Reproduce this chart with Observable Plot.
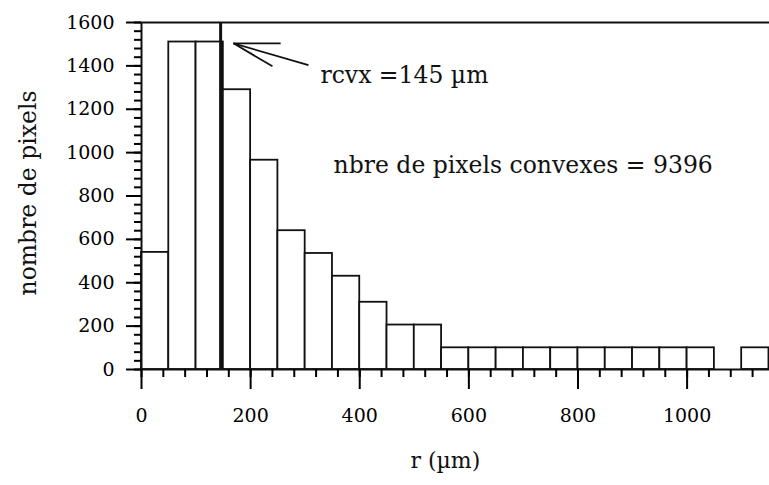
<!DOCTYPE html>
<html>
<head>
<meta charset="utf-8">
<script src="https://cdn.jsdelivr.net/npm/d3@7"></script>
<script src="https://cdn.jsdelivr.net/npm/@observablehq/plot@0.6"></script>
<style>
  html, body { margin: 0; padding: 0; background: #fff; }
  #chart svg { display: block; }
</style>
</head>
<body>
<div id="chart"></div>
<script>
// Histogram bins (µm) and pixel counts
const binStart = [0, 50, 100, 150, 200, 250, 300, 350, 400, 450, 500, 550, 600, 650, 700, 750, 800, 850, 900, 950, 1000, 1050, 1100];
const binWidth = 50;
const counts   = [540, 1510, 1510, 1290, 965, 640, 535, 430, 310, 205, 205, 100, 100, 100, 100, 100, 100, 100, 100, 100, 100, 0, 100];

// Axis ticks
const xMajorTicks = [0, 200, 400, 600, 800, 1000];
const xMinorTicks = d3.range(0, 1151, 40);
const yMajorTicks = [0, 200, 400, 600, 800, 1000, 1200, 1400, 1600];
const yMinorTicks = d3.range(0, 1601, 40);

// Annotations
const rcvx = 145;
const rcvxLabel = "rcvx =145 µm";
const convexLabel = "nbre de pixels convexes = 9396";
const arrowX1 = [168.5, 168.5, 168.5];
const arrowY1 = [1504, 1504, 1504];
const arrowX2 = [306, 255, 240];
const arrowY2 = [1403, 1504, 1398];
const xLabel = "r (µm)";
const yLabel = "nombre de pixels";

const bars = binStart.map((s, i) => ({x1: s, x2: s + binWidth, y: counts[i]})).filter(d => d.y > 0);
const arrowSegs = arrowX1.map((_, i) => ({x1: arrowX1[i], y1: arrowY1[i], x2: arrowX2[i], y2: arrowY2[i]}));

const serif = "'DejaVu Serif', 'Liberation Serif', serif";

const chart = Plot.plot({
  width: 769,
  height: 485,
  marginLeft: 141,
  marginRight: 0,
  marginTop: 22,
  marginBottom: 116,
  style: {background: "#fff", color: "#000", fontFamily: serif, fontSize: "19px"},
  x: {domain: [0, 1151], label: null},
  y: {domain: [0, 1600], label: null},
  marks: [
    Plot.rectY(bars, {x1: "x1", x2: "x2", y: "y", fill: "#fff", stroke: "#111", strokeWidth: 1.8}),
    Plot.ruleY([1600], {stroke: "#111", strokeWidth: 2}),
    Plot.ruleY([0], {stroke: "#111", strokeWidth: 2}),
    Plot.ruleX([0], {y1: 0, y2: 1600, stroke: "#111", strokeWidth: 2}),
    Plot.ruleX([rcvx], {y1: 0, y2: 1600, stroke: "#111", strokeWidth: 3}),
    Plot.axisY(yMajorTicks, {tickSize: 15, tickPadding: 12, tickFormat: d => String(d), strokeWidth: 2, fontSize: 19, label: null}),
    Plot.axisY(yMinorTicks, {tickSize: 7, tickFormat: () => "", strokeWidth: 2, label: null}),
    Plot.axisX(xMajorTicks, {tickSize: 20, tickPadding: 19, tickFormat: d => String(d), strokeWidth: 2, fontSize: 19, label: null}),
    Plot.axisX(xMinorTicks, {tickSize: 8, tickFormat: () => "", strokeWidth: 2, label: null}),
    Plot.link(arrowSegs, {x1: "x1", y1: "y1", x2: "x2", y2: "y2", stroke: "#111", strokeWidth: 1.8}),
    Plot.text([rcvxLabel], {x: 328, y: 1354, text: d => d, textAnchor: "start", fontSize: 23.5, fill: "#111"}),
    Plot.text([convexLabel], {x: 352, y: 940, text: d => d, textAnchor: "start", fontSize: 23.5, fill: "#111"}),
    Plot.text([xLabel], {x: 557, frameAnchor: "bottom", dy: 98, text: d => d, fontSize: 22, fill: "#111"}),
    Plot.text([yLabel], {frameAnchor: "left", dx: -113, dy: -3, rotate: -90, textAnchor: "middle", text: d => d, fontSize: 23.5, fill: "#111"})
  ]
});
document.getElementById("chart").appendChild(chart);
</script>
</body>
</html>
